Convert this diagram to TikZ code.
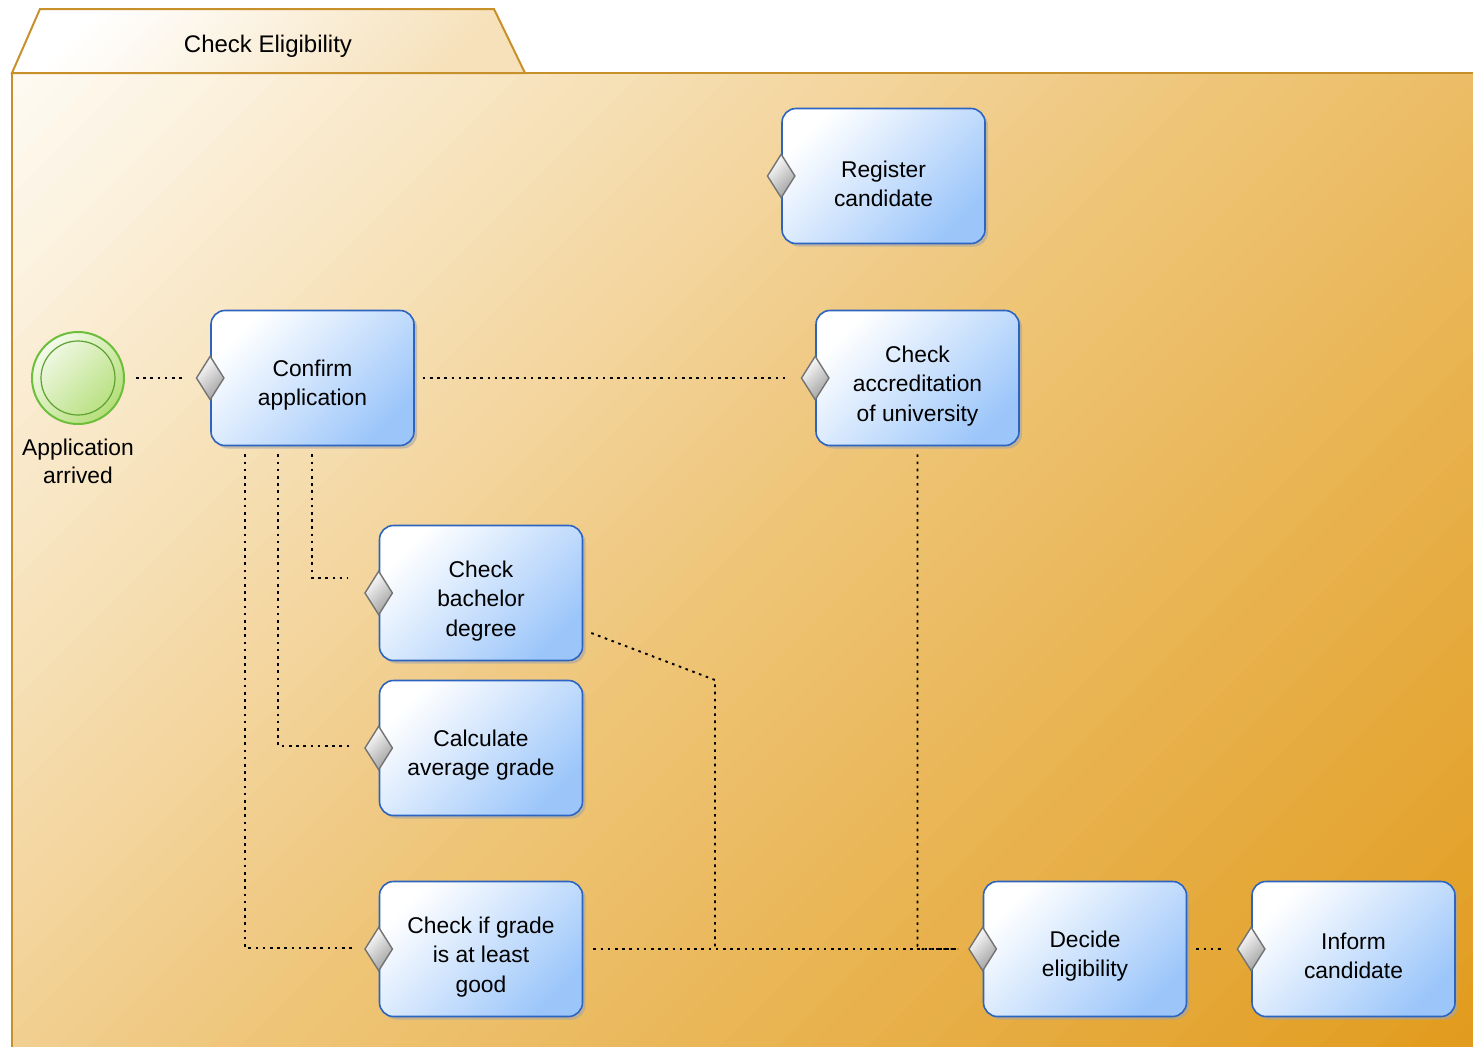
\documentclass[tikz,border=0pt]{standalone}
\usepackage{fontspec}
\setmainfont{Liberation Sans}
\usetikzlibrary{shapes.geometric,shadows,calc}
\definecolor{frameC}{HTML}{C8902A}
\definecolor{boxB}{HTML}{2C64C0}
\definecolor{boxF}{HTML}{9CC6FA}
\definecolor{grC}{HTML}{6DBE3A}
\definecolor{grF}{HTML}{B4DE78}
\definecolor{cA}{HTML}{FEFAF2}
\definecolor{cB}{HTML}{EEC476}
\definecolor{cC}{HTML}{E19B1C}
\definecolor{tabF}{HTML}{F6E1BA}
\tikzset{
  task/.style={rectangle, rounded corners=14pt, draw=boxB, line width=1.6pt,
    top color=white, bottom color=boxF, shading angle=45,
    minimum width=203pt, minimum height=135pt, inner sep=0pt,
    drop shadow={shadow xshift=3pt, shadow yshift=-3pt, fill=gray!70, opacity=.6}},
  tasktext/.style={align=center, inner sep=0pt, font=\fontsize{22.8pt}{29.5pt}\selectfont},
  gate/.style={diamond, draw=gray!110, line width=1.4pt, inner sep=0pt,
    minimum width=28pt, minimum height=44pt,
    top color=white, bottom color=gray!75, shading angle=45},
  conn/.style={black, line width=1.9pt, dash pattern=on 2.6pt off 4.6pt},
}
\begin{document}
\begin{tikzpicture}[x=1pt,y=-1pt]
\useasboundingbox (0,0) rectangle (1473,1047);
% frame with diagonal gradient
\begin{scope}
\clip (12,73) rectangle (1480,1060);
\foreach \i in {0,...,82} {
  \pgfmathsetmacro\s{85+\i*30}
  \pgfmathtruncatemacro\pA{min(100,max(0,(\s-85)/12.15))}
  \pgfmathtruncatemacro\pB{min(100,max(0,(\s-1300)/12.2))}
  \colorlet{bandc}{cB!\pA!cA}
  \colorlet{bandc}{cC!\pB!bandc}
  \fill[bandc] (\s,0) -- (2600,0) -- (2600,2600) -- (0,2600) -- (0,\s) -- cycle;
}
\end{scope}
\draw[frameC, line width=2pt] (12,1060) -- (12,73) -- (1480,73);
% tab
\draw[frameC, line width=2pt, top color=white, bottom color=tabF, shading angle=45]
  (12,73) -- (40,9) -- (494,9) -- (525,73) -- cycle;
\node[font=\fontsize{24pt}{28pt}\selectfont] (title) at (268,46) {Check Eligibility};
% start event
\node[circle, draw=grC, line width=2pt, minimum size=92pt, inner sep=0pt,
  top color=white!85!grF, bottom color=grF, shading angle=45] (start) at (78,378) {};
\draw[grC!85!black, line width=1.2pt] (start.center) circle (37pt);
\node[align=center, font=\fontsize{22.8pt}{28.5pt}\selectfont, anchor=north] (startlbl) at (78,435) {Application\\arrived};
% tasks
\node[task] (reg) at (883.5,176) {};
\node[task] (conf) at (312.5,378) {};
\node[task] (accr) at (917.5,378) {};
\node[task] (bach) at (481,593) {};
\node[task] (calc) at (481,748) {};
\node[task] (grade) at (481,949) {};
\node[task] (dec) at (1085,949) {};
\node[task] (inf) at (1353.5,949) {};
\node[tasktext] (regT) at ($(reg.center)+(0,8)$) {Register\\candidate};
\node[tasktext] (confT) at ($(conf.center)+(0,7)$) {Confirm\\application};
\node[tasktext] (accrT) at ($(accr.center)+(0,8)$) {Check\\accreditation\\of university};
\node[tasktext] (bachT) at ($(bach.center)+(0,8)$) {Check\\bachelor\\degree};
\node[tasktext] (calcT) at ($(calc.center)+(0,7)$) {Calculate\\average grade};
\node[tasktext] (gradeT) at ($(grade.center)+(0,8)$) {Check if grade\\is at least\\good};
\node[tasktext] (decT) at ($(dec.center)+(0,7)$) {Decide\\eligibility};
\node[tasktext] (infT) at ($(inf.center)+(0,7)$) {Inform\\candidate};
% gates
\foreach \n in {reg,conf,accr,bach,calc,grade,dec,inf}
  \node[gate] (\n G) at (\n.west) {};
% connectors
\draw[conn] ($(start.east)+(11,0)$) -- ($(confG.west)+(-14,0)$);
\draw[conn] ($(conf.east)+(8,0)$) -- ($(accrG.west)+(-12,0)$);
\draw[conn] ($(conf.south west)+(102,8)$) |- ($(bachG.west)+(-16,-15)$);
\draw[conn] ($(conf.south west)+(68,8)$) |- ($(calcG.west)+(-14,-2)$);
\draw[conn] ($(conf.south west)+(35,8)$) |- ($(gradeG.west)+(-11,-1)$);
\coordinate (bend) at (715,680);
\draw[conn] ($(bach.east)+(8,40)$) -- (bend) -- (bend |- grade.east);
\draw[conn] ($(grade.east)+(10,0)$) -- ($(decG.west)+(-10,0)$);
\draw[conn] ($(accr.south)+(0,8)$) -- ($(accr.south |- decG.west)+(0,-3)$) -- ($(accr.south |- decG.west)+(5,0)$) -- ($(decG.west)+(-10,0)$);
\draw[conn] ($(dec.east)+(9,0)$) -- ($(infG.west)+(-13,0)$);
\end{tikzpicture}
\end{document}
